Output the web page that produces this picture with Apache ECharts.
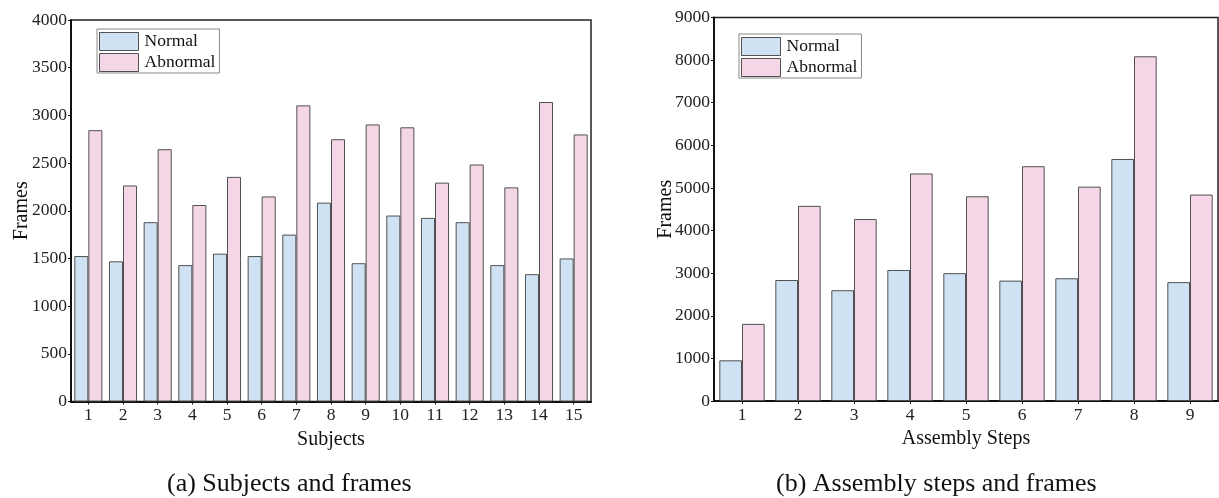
<!DOCTYPE html>
<html>
<head>
<meta charset="utf-8">
<script src="https://cdn.jsdelivr.net/npm/echarts@6/dist/echarts.min.js"></script>
<style>
html,body{margin:0;padding:0;background:#fff;}
#main{width:1219px;height:498px;}
</style>
</head>
<body>
<div id="main"></div>
<script>
// ---- data ----
const subjects = ['1','2','3','4','5','6','7','8','9','10','11','12','13','14','15'];
const subjNormal = [1525,1470,1880,1430,1550,1525,1750,2085,1450,1950,1925,1880,1430,1335,1500];
const subjAbnormal = [2845,2265,2645,2060,2355,2150,3105,2750,2905,2875,2295,2485,2245,3140,2800];
const steps = ['1','2','3','4','5','6','7','8','9'];
const stepNormal = [955,2840,2600,3075,3000,2825,2880,5680,2790];
const stepAbnormal = [1810,4580,4270,5340,4805,5510,5030,8090,4845];
const seriesNames = ['Normal','Abnormal'];
const captions = ['(a) Subjects and frames','(b) Assembly steps and frames'];
const xNames = ['Subjects','Assembly Steps'];
const yName = 'Frames';

const FONT = "'Liberation Serif','DejaVu Serif',serif";
const BLUE = '#cfe2f3';
const PINK = '#f5d6e6';
const EDGE = '#505050';

const chart = echarts.init(document.getElementById('main'), null, {renderer:'canvas'});

function xAxisCfg(gridIndex, cats, name){
  return {
    type:'category', gridIndex, data:cats, name, nameLocation:'middle', nameGap:28,
    nameMoveOverlap:false,
    nameTextStyle:{fontFamily:FONT,fontSize:20,color:'#111'},
    axisLine:{lineStyle:{color:'#111',width:2}},
    axisTick:{show:true,alignWithLabel:true,length:3,lineStyle:{color:'#111',width:1}},
    axisLabel:{fontFamily:FONT,fontSize:17.5,color:'#222',margin:5},
    splitLine:{show:false}
  };
}
function yAxisCfg(gridIndex, max, interval, gap){
  return {
    type:'value', gridIndex, min:0, max, interval, name:yName, nameLocation:'middle', nameGap:gap,
    nameRotate:90, nameMoveOverlap:false,
    nameTextStyle:{fontFamily:FONT,fontSize:20,color:'#111'},
    axisLine:{show:true,lineStyle:{color:'#111',width:2}},
    axisTick:{show:true,length:3,lineStyle:{color:'#111',width:1}},
    axisLabel:{fontFamily:FONT,fontSize:17.5,color:'#222',margin:4,formatter:v=>String(v)},
    splitLine:{show:false}
  };
}
function legendCfg(left, top){
  return {
    data:seriesNames, orient:'vertical', left, top, icon:'rect',
    itemWidth:39, itemHeight:18, itemGap:2, padding:[3,4,1,2],
    backgroundColor:'#fff', borderColor:'#888', borderWidth:1, borderRadius:0,
    itemStyle:{borderColor:EDGE,borderWidth:1},
    textStyle:{fontFamily:FONT,fontSize:17.5,color:'#111',padding:[0,0,0,1]},
    selectedMode:false
  };
}
function barSeries(name, data, idx, color){
  return {
    type:'bar', name, data, xAxisIndex:idx, yAxisIndex:idx,
    barGap:'0%', barCategoryGap:'19%',
    itemStyle:{color, borderColor:EDGE, borderWidth:1},
    emphasis:{disabled:true}, animation:false
  };
}

const option = {
  animation:false,
  backgroundColor:'#fff',
  title:[
    {text:captions[0], left:167, top:471, padding:0, textStyle:{fontFamily:FONT,fontSize:26,fontWeight:'normal',color:'#111'}},
    {text:captions[1], left:776, top:471, padding:0, textStyle:{fontFamily:FONT,fontSize:26,fontWeight:'normal',color:'#111'}}
  ],
  grid:[
    {left:71, top:20, width:520, height:381.5, show:true, borderColor:'#222', borderWidth:1.5, backgroundColor:'transparent'},
    {left:714, top:17.5, width:504, height:383.5, show:true, borderColor:'#222', borderWidth:1.5, backgroundColor:'transparent'}
  ],
  legend:[legendCfg(97, 29), legendCfg(739, 34)],
  xAxis:[xAxisCfg(0, subjects, xNames[0]), xAxisCfg(1, steps, xNames[1])],
  yAxis:[yAxisCfg(0, 4000, 500, 39), yAxisCfg(1, 9000, 1000, 38)],
  series:[
    barSeries(seriesNames[0], subjNormal, 0, BLUE),
    barSeries(seriesNames[1], subjAbnormal, 0, PINK),
    barSeries(seriesNames[0], stepNormal, 1, BLUE),
    barSeries(seriesNames[1], stepAbnormal, 1, PINK)
  ]
};
chart.setOption(option);
</script>
</body>
</html>
